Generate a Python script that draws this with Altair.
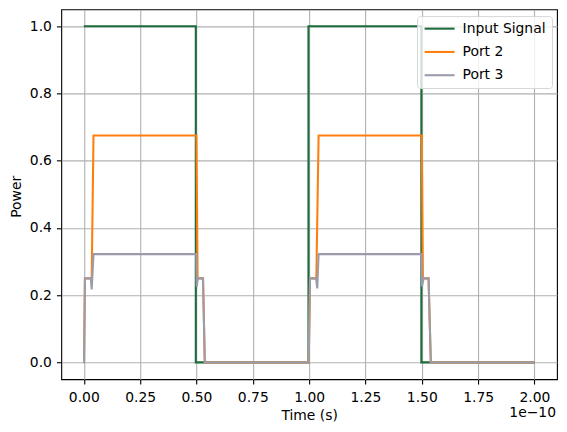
import altair as alt
import pandas as pd

# Series names and colours
series_names = ["Input Signal", "Port 2", "Port 3"]
series_colors = ["#1d6b3c", "#ff7f0e", "#9a9bab"]

# Time in units of 1e-10 s
input_time = [0.000, 0.497, 0.497, 0.997, 0.997, 1.498, 1.498, 2.000]
input_power = [1.0, 1.0, 0.0, 0.0, 1.0, 1.0, 0.0, 0.0]

port2_time = [0.000, 0.001, 0.005, 0.035, 0.043, 0.500, 0.505, 0.529, 0.537,
              0.997, 0.998, 1.004, 1.032, 1.042, 1.500, 1.505, 1.530, 1.540, 2.000]
port2_power = [0.0, 0.0, 0.25, 0.25, 0.675, 0.675, 0.25, 0.25, 0.0,
               0.0, 0.0, 0.25, 0.25, 0.675, 0.675, 0.25, 0.25, 0.0, 0.0]

port3_time = [0.000, 0.001, 0.005, 0.031, 0.035, 0.043, 0.499, 0.501, 0.506, 0.529, 0.537,
              0.997, 0.998, 1.004, 1.031, 1.036, 1.042, 1.498, 1.501, 1.508, 1.530, 1.540, 2.000]
port3_power = [0.0, 0.0, 0.25, 0.25, 0.217, 0.322, 0.322, 0.225, 0.25, 0.25, 0.0,
               0.0, 0.0, 0.25, 0.25, 0.220, 0.322, 0.322, 0.226, 0.25, 0.25, 0.0, 0.0]

x_ticks = [0.0, 0.25, 0.5, 0.75, 1.0, 1.25, 1.5, 1.75, 2.0]
y_ticks = [0.0, 0.2, 0.4, 0.6, 0.8, 1.0]
offset_label = "1e\u221210"

rows = []
for name, ts, ps in [(series_names[0], input_time, input_power),
                     (series_names[1], port2_time, port2_power),
                     (series_names[2], port3_time, port3_power)]:
    for i, (t, p) in enumerate(zip(ts, ps)):
        rows.append({"series": name, "time": t, "power": p, "idx": i})
df = pd.DataFrame(rows)

FONT = "DejaVu Sans"
FS = 13.9

lines = alt.Chart(df).mark_line(strokeWidth=2.08, clip=True).encode(
    x=alt.X("time:Q",
            scale=alt.Scale(domain=[-0.1, 2.1], nice=False, zero=False),
            axis=alt.Axis(values=x_ticks, format=".2f", title="Time (s)",
                          titleY=29, titleBaseline="top", labelPadding=6)),
    y=alt.Y("power:Q",
            scale=alt.Scale(domain=[-0.05, 1.05], nice=False, zero=False),
            axis=alt.Axis(values=y_ticks, format=".1f", title="Power",
                          titleX=-41, titleY=187, titleBaseline="alphabetic",
                          titleAngle=270, titleAlign="center", labelPadding=5)),
    color=alt.Color("series:N",
                    scale=alt.Scale(domain=series_names, range=series_colors),
                    legend=alt.Legend(title=None, orient="none", legendX=356, legendY=6.7,
                                      symbolType="M-3,0L3,0", symbolStrokeWidth=2.08,
                                      symbolSize=100, symbolOffset=10,
                                      labelFontSize=FS, labelFont=FONT,
                                      labelColor="black", labelOffset=16,
                                      padding=5.6, rowPadding=8.3,
                                      strokeColor="#d6d6d6", fillColor="rgba(255,255,255,0.8)",
                                      cornerRadius=3)),
    order=alt.Order("idx:Q"),
)

offset_text = alt.Chart(pd.DataFrame({"label": [offset_label]})).mark_text(
    align="right", baseline="middle", font=FONT, fontSize=FS, color="black"
).encode(text="label:N", x=alt.value(495), y=alt.value(404))

chart = alt.layer(lines, offset_text).properties(
    width=496, height=370,
    autosize=alt.AutoSizeParams(type="none"),
    padding={"left": 53.3, "top": 1.3, "right": 2, "bottom": 45},
).configure(font=FONT).configure_view(
    stroke="black", strokeWidth=1.1
).configure_axis(
    domain=False, grid=True, gridColor="#b0b0b0", gridWidth=1.1,
    tickColor="black", tickWidth=1.1, tickSize=4.86,
    labelFont=FONT, labelFontSize=FS, labelColor="black",
    titleFont=FONT, titleFontSize=FS, titleColor="black", titleFontWeight="normal",
)

chart.save("out.html", embed_options={"renderer": "svg", "actions": False})
